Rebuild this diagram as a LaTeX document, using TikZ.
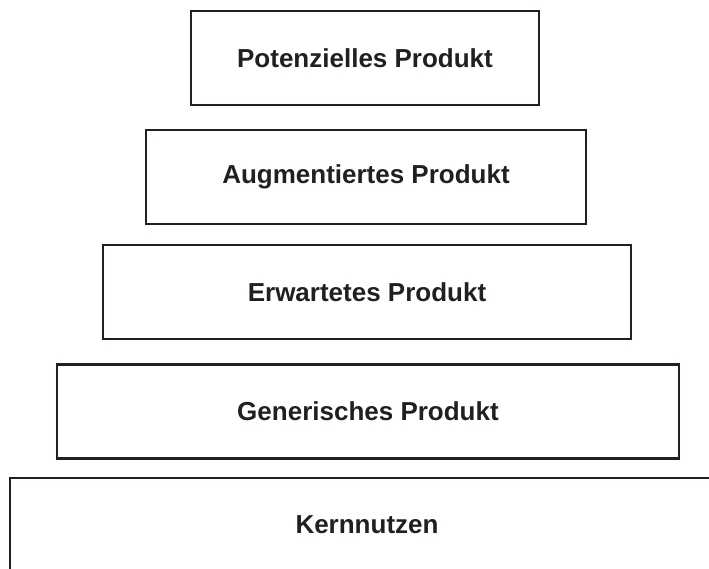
\documentclass[tikz,border=0pt]{standalone}
\usepackage{fontspec}
\setmainfont{Liberation Sans}
\usetikzlibrary{positioning}

\definecolor{ink}{RGB}{35,31,32}

\tikzset{
  layer/.style = {draw=ink, line width=2.6pt, inner sep=0pt, outer sep=0pt,
                  minimum height=94pt, text=ink,
                  font=\fontsize{26}{30}\selectfont\bfseries}
}

\begin{document}
\begin{tikzpicture}[x=1pt, y=1pt]
 \useasboundingbox (0,0) rectangle (709,-569);
 \clip (0,0) rectangle (709,-569);

 % product levels, from the top down
 \node[layer, minimum width=348pt] (potenziell)  at (365,-58)  {Potenzielles Produkt};
 \node[layer, minimum width=440pt] (augmentiert) at (366,-177) {Augmentiertes Produkt};
 \node[layer, minimum width=528pt] (erwartet)    at (367,-292) {Erwartetes Produkt};
 \node[layer, minimum width=622pt] (generisch)   at (368,-411.5) {Generisches Produkt};
 \node[layer, minimum width=714pt] (kern)        at (367,-525) {Kernnutzen};
\end{tikzpicture}
\end{document}
